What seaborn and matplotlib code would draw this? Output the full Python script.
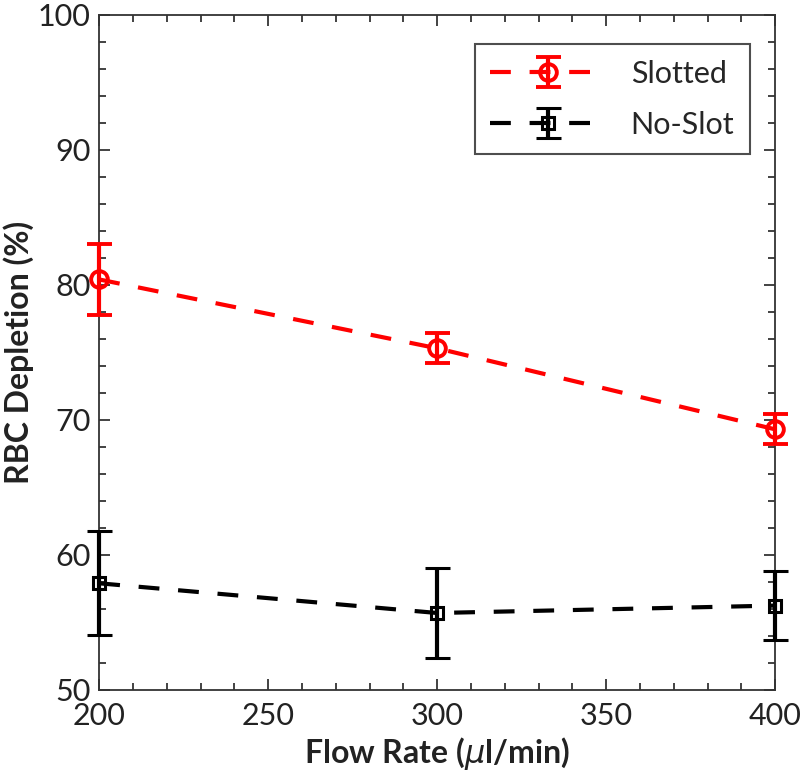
import matplotlib
matplotlib.use("Agg")
import matplotlib.pyplot as plt
from matplotlib.ticker import MultipleLocator
import seaborn as sns

# Data
flow_rate = [200, 300, 400]
slotted_mean = [80.4, 75.3, 69.3]
slotted_err = [2.6, 1.1, 1.1]
noslot_mean = [57.9, 55.7, 56.25]
noslot_err = [3.85, 3.3, 2.55]

sns.set_theme(style="ticks")
plt.rcParams['font.family'] = ['Lato', 'DejaVu Sans']
plt.rcParams['mathtext.fontset'] = 'dejavusans'

fig = plt.figure(figsize=(8, 7.77), dpi=100)
ax = fig.add_axes([0.124, 0.112, 0.845, 0.869])

# Slotted
ax.errorbar(flow_rate, slotted_mean, yerr=slotted_err, color='#ff0000',
            ls=(0, (5, 4.5)), lw=3, marker='o', ms=12, mfc='none', mew=2.8,
            elinewidth=3, capsize=9, capthick=3, label='Slotted', clip_on=False, zorder=3)

# No-Slot
ax.errorbar(flow_rate, noslot_mean, yerr=noslot_err, color='black',
            ls=(0, (5, 4.5)), lw=3, marker='s', ms=9, mfc='none', mew=2.2,
            elinewidth=3, capsize=9, capthick=3, label='No-Slot', clip_on=False, zorder=3)

ax.set_xlim(200, 400)
ax.set_ylim(50, 100)
ax.xaxis.set_major_locator(MultipleLocator(50))
ax.xaxis.set_minor_locator(MultipleLocator(10))
ax.yaxis.set_major_locator(MultipleLocator(10))
ax.yaxis.set_minor_locator(MultipleLocator(2))
ax.tick_params(which='both', direction='in', top=True, right=True, colors='#222222',
               labelsize=22, width=1.2)
ax.tick_params(which='major', length=8)
ax.tick_params(which='minor', length=5)
ax.tick_params(axis='x', pad=9)
ax.tick_params(axis='y', pad=6)
for sp in ax.spines.values():
    sp.set_color('#333333')
    sp.set_linewidth(1.3)

ax.set_xlabel('Flow Rate ($\\mu$l/min)', fontsize=23, fontweight='bold', color='#222222', labelpad=3)
ax.set_ylabel('RBC Depletion (%)', fontsize=23, fontweight='bold', color='#222222', labelpad=3)

leg = ax.legend(loc='upper right', bbox_to_anchor=(0.962, 0.956), borderaxespad=0,
                fontsize=22, frameon=True, fancybox=False, edgecolor='#222222',
                handlelength=3.8, handletextpad=0.8, borderpad=0.5, labelspacing=0.75)
leg.get_frame().set_linewidth(1.5)

fig.savefig('out.png', dpi=100)
